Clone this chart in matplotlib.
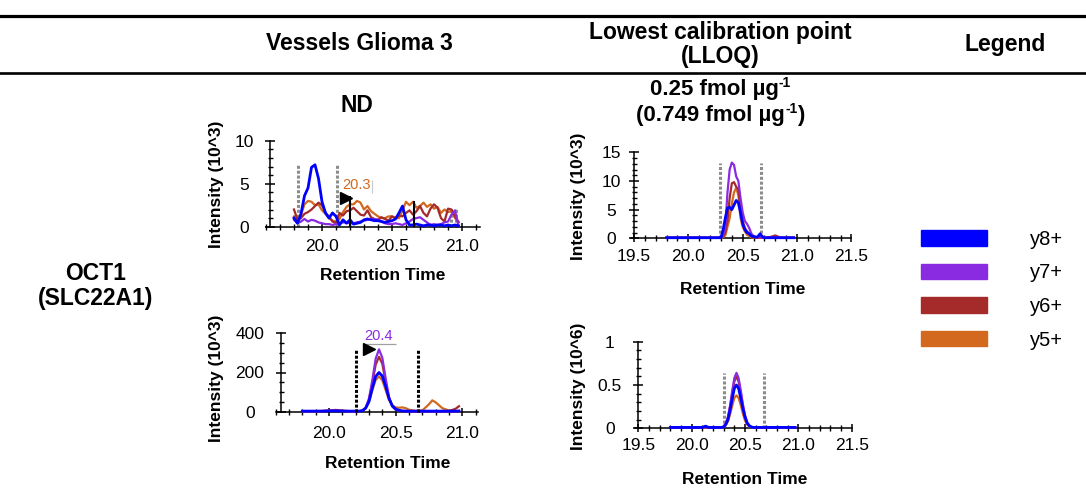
import matplotlib
matplotlib.use("Agg")
import matplotlib.pyplot as plt
from matplotlib.lines import Line2D
from matplotlib.patches import Patch
from matplotlib.ticker import MultipleLocator, FormatStrFormatter

W, H = 1086, 493

# ---- data ----
ions = ["y8+", "y7+", "y6+", "y5+"]
ion_colors = ["#0000FF", "#8A2BE2", "#A52A2A", "#D2691E"]

# vessels glioma 3, top panel (10^3)
tl_time = [19.800, 19.825, 19.850, 19.875, 19.900, 19.925, 19.950, 19.975,
           20.000, 20.025, 20.050, 20.075, 20.100, 20.125, 20.150, 20.175,
           20.200, 20.225, 20.250, 20.275, 20.300, 20.325, 20.350, 20.375,
           20.400, 20.425, 20.450, 20.475, 20.500, 20.525, 20.550, 20.575,
           20.600, 20.625, 20.650, 20.675, 20.700, 20.725, 20.750, 20.775,
           20.800, 20.825, 20.850, 20.875, 20.900, 20.925, 20.950, 20.975]
tl_y8 = [1.0, 0.4, 1.5, 3.6, 4.5, 6.9, 7.2, 5.6, 2.9, 1.6, 1.0, 1.6, 1.2, 0.2, 0.8, 0.4,
         0.8, 0.3, 0.4, 0.5, 0.8, 0.9, 0.8, 0.7, 0.7, 0.6, 0.5, 0.6, 0.7, 0.9, 1.6, 2.4,
         0.8, 0.2, 0.2, 0.3, 0.2, 0.1, 0.2, 0.2, 0.1, 0.2, 0.2, 0.1, 0.2, 0.1, 0.2, 0.1]
tl_y7 = [0.8, 0.4, 0.6, 0.9, 0.6, 0.8, 0.7, 0.5, 0.4, 0.3, 0.3, 0.2, 0.3, 0.4, 0.5, 0.5,
         0.4, 0.4, 0.5, 0.6, 0.7, 0.8, 0.9, 0.9, 0.8, 0.6, 0.4, 0.3, 0.3, 0.4, 0.3, 0.2,
         0.4, 0.6, 0.9, 1.0, 1.1, 0.8, 0.5, 0.2, 0.3, 0.2, 0.3, 0.5, 0.6, 1.4, 1.9, 0.1]
tl_y6 = [2.0, 0.8, 1.0, 1.5, 1.7, 2.0, 2.4, 2.8, 2.5, 1.6, 1.2, 0.6, 0.4, 1.6, 1.3, 1.8,
         1.9, 2.2, 1.8, 1.4, 1.3, 1.9, 1.1, 0.9, 0.8, 1.1, 0.9, 0.7, 1.2, 1.0, 1.3, 1.2,
         1.6, 1.9, 1.4, 1.8, 2.4, 1.6, 1.2, 2.1, 2.6, 2.2, 1.0, 0.6, 2.1, 2.0, 1.2, 0.5]
tl_y5 = [1.2, 0.8, 1.4, 2.6, 3.0, 2.9, 2.5, 2.6, 1.9, 1.5, 1.0, 0.7, 0.6, 0.9, 1.7, 2.3,
         2.6, 2.6, 3.0, 2.8, 2.0, 2.4, 1.8, 1.5, 1.2, 1.0, 1.0, 1.2, 1.2, 1.0, 1.0, 1.9,
         2.9, 2.5, 2.9, 2.2, 2.4, 2.8, 2.3, 2.6, 2.1, 2.3, 1.6, 2.0, 1.7, 1.8, 1.0, 0.6]
tl_bounds = [19.83, 20.11]
tl_bounds_top = 7.25
tl_bounds2 = [20.92, 20.96]
tl_bounds2_top = 2.2
tl_markers = [20.20, 20.66]
tl_markers_top = [3.6, 3.0]
tl_rt_label = "20.3"

# vessels glioma 3, bottom panel (10^3)
bl_time = [19.80, 19.85, 19.90, 19.95, 20.00, 20.05, 20.10, 20.15, 20.20, 20.225, 20.25,
           20.275, 20.30, 20.325, 20.35, 20.375, 20.40, 20.425, 20.45, 20.475, 20.50,
           20.525, 20.55, 20.575, 20.60, 20.65, 20.70, 20.75, 20.775, 20.80, 20.85,
           20.90, 20.95, 20.975]
bl_y8 = [3, 3, 3, 3, 4, 4, 3, 3, 3, 3, 5, 18, 52, 120, 180, 200, 182, 130, 68, 30, 14,
         7, 4, 3, 3, 3, 3, 3, 3, 3, 3, 3, 3, 3]
bl_y7 = [2, 2, 3, 3, 5, 6, 4, 2, 1, 2, 5, 20, 68, 160, 270, 318, 275, 170, 75, 26, 10,
         4, 3, 2, 2, 1, 1, 1, 1, 1, 1, 1, 2, 5]
bl_y6 = [2, 2, 3, 4, 6, 9, 6, 3, 2, 2, 5, 18, 60, 145, 240, 280, 245, 150, 70, 28, 12,
         6, 4, 3, 2, 2, 2, 2, 2, 2, 2, 3, 15, 28]
bl_y5 = [2, 2, 2, 3, 4, 5, 3, 2, 2, 2, 6, 20, 50, 110, 162, 180, 160, 110, 60, 32, 22,
         20, 22, 18, 10, 4, 6, 38, 58, 48, 18, 6, 2, 2]
bl_bounds = [20.20, 20.67]
bl_bounds_top = 314
bl_rt_label = "20.4"

# LLOQ, top panel (10^3)
tr_time = [19.80, 19.90, 20.00, 20.10, 20.20, 20.28, 20.30, 20.32, 20.34, 20.36, 20.38,
           20.40, 20.42, 20.44, 20.46, 20.48, 20.50, 20.52, 20.54, 20.56, 20.58, 20.60,
           20.62, 20.64, 20.66, 20.68, 20.70, 20.75, 20.80, 20.85, 20.90, 20.97]
tr_y8 = [0.1, 0.1, 0.1, 0.1, 0.1, 0.1, 0.1, 1.5, 3.5, 5.3, 5.4, 5.0, 5.8, 6.6, 6.2, 4.5,
         2.5, 1.5, 1.0, 0.8, 0.4, 0.3, 0.2, 0.3, 0.8, 0.3, 0.1, 0.1, 0.1, 0.1, 0.1, 0.1]
tr_y7 = [0.1, 0.1, 0.1, 0.1, 0.1, 0.1, 0.2, 0.6, 2.0, 8.0, 12.0, 13.2, 12.8, 10.8, 10.0, 7.0,
         4.5, 3.0, 2.5, 1.8, 0.8, 0.4, 0.2, 0.2, 0.2, 0.1, 0.1, 0.1, 0.2, 0.1, 0.1, 0.1]
tr_y6 = [0.1, 0.1, 0.1, 0.1, 0.1, 0.1, 0.1, 0.3, 1.0, 3.0, 7.0, 9.6, 9.8, 9.0, 8.5, 5.0,
         3.0, 1.8, 1.2, 0.8, 0.4, 0.2, 0.1, 0.1, 0.1, 0.1, 0.1, 0.2, 0.5, 0.1, 0.1, 0.1]
tr_y5 = [0.1, 0.1, 0.1, 0.1, 0.1, 0.1, 0.1, 0.2, 0.5, 2.0, 3.5, 6.0, 8.0, 8.8, 7.5, 3.5,
         2.0, 1.2, 0.6, 0.4, 0.2, 0.1, 0.1, 0.1, 0.1, 0.1, 0.1, 0.1, 0.2, 0.1, 0.1, 0.1]
tr_bounds = [20.29, 20.67]
tr_bounds_top = 13.2

# LLOQ, bottom panel (10^6)
br_time = [19.80, 19.90, 20.00, 20.10, 20.13, 20.16, 20.20, 20.28, 20.30, 20.32, 20.34,
           20.36, 20.38, 20.40, 20.42, 20.44, 20.46, 20.48, 20.50, 20.52, 20.54, 20.56,
           20.58, 20.60, 20.65, 20.70, 20.80, 20.90, 20.97]
br_y8 = [0.01, 0.01, 0.01, 0.01, 0.025, 0.01, 0.01, 0.01, 0.015, 0.045, 0.10, 0.21, 0.34,
         0.46, 0.50, 0.46, 0.35, 0.23, 0.13, 0.06, 0.03, 0.015, 0.01, 0.01, 0.01, 0.01,
         0.01, 0.01, 0.01]
br_y7 = [0.01, 0.01, 0.01, 0.01, 0.015, 0.01, 0.01, 0.01, 0.02, 0.055, 0.13, 0.26, 0.43,
         0.58, 0.64, 0.58, 0.44, 0.28, 0.15, 0.07, 0.03, 0.015, 0.01, 0.01, 0.01, 0.01,
         0.01, 0.01, 0.01]
br_y6 = [0.01, 0.01, 0.01, 0.01, 0.015, 0.01, 0.01, 0.01, 0.02, 0.05, 0.12, 0.25, 0.40,
         0.54, 0.60, 0.54, 0.41, 0.26, 0.14, 0.065, 0.03, 0.015, 0.01, 0.01, 0.01, 0.01,
         0.01, 0.01, 0.01]
br_y5 = [0.01, 0.01, 0.01, 0.01, 0.01, 0.01, 0.01, 0.01, 0.01, 0.035, 0.08, 0.16, 0.26,
         0.35, 0.38, 0.35, 0.27, 0.17, 0.09, 0.045, 0.02, 0.01, 0.005, 0.005, 0.005,
         0.005, 0.005, 0.005, 0.005]
br_bounds = [20.30, 20.68]
br_bounds_top = 0.64

plt.rcParams["font.family"] = ["Liberation Sans", "DejaVu Sans"]

fig = plt.figure(figsize=(W / 100, H / 100), dpi=100)


def fx(px):
    return px / W


def fy(py):
    return 1 - py / H


def make_axes(xlim, ylim, xref, xref_px, xscale, y0_px, yscale):
    left = xref_px + (xlim[0] - xref) * xscale
    right = xref_px + (xlim[1] - xref) * xscale
    bottom = y0_px - ylim[0] * yscale
    top = y0_px - ylim[1] * yscale
    ax = fig.add_axes([fx(left), fy(bottom), (right - left) / W, (bottom - top) / H])
    ax.set_xlim(xlim)
    ax.set_ylim(ylim)
    ax.patch.set_alpha(0)
    return ax


def style(ax, spine_x, x_end, y_top, ymaj, ymin, yfmt, ylabel, ylab_px, xlab_px,
          ypad, xpad):
    for s in ["top", "right"]:
        ax.spines[s].set_visible(False)
    ax.spines["left"].set_position(("data", spine_x))
    ax.spines["bottom"].set_position(("data", 0))
    ax.spines["left"].set_bounds(0, y_top)
    ax.spines["bottom"].set_bounds(ax.get_xlim()[0], x_end)
    ax.spines["left"].set_linewidth(1.1)
    ax.spines["bottom"].set_linewidth(1.1)
    ax.xaxis.set_major_locator(MultipleLocator(0.5))
    ax.xaxis.set_minor_locator(MultipleLocator(0.1))
    ax.yaxis.set_major_locator(MultipleLocator(ymaj))
    ax.yaxis.set_minor_locator(MultipleLocator(ymin))
    ax.xaxis.set_major_formatter(FormatStrFormatter("%.1f"))
    ax.yaxis.set_major_formatter(FormatStrFormatter(yfmt))
    ax.tick_params(axis="x", which="major", direction="inout", length=5.5, width=1.1,
                   labelsize=12.5, pad=xpad)
    ax.tick_params(axis="x", which="minor", direction="inout", length=4, width=1.0)
    ax.tick_params(axis="y", which="major", direction="inout", length=7, width=1.1,
                   labelsize=12.5, pad=ypad)
    ax.tick_params(axis="y", which="minor", direction="inout", length=3.6, width=1.0)
    for lab in ax.get_yticklabels():
        lab.set_horizontalalignment("center")
    ax.set_ylabel(ylabel, fontsize=12.5, fontweight="bold")
    ax.set_xlabel("Retention Time", fontsize=12.5, fontweight="bold")
    ax.yaxis.set_label_coords(fx(ylab_px[0]), fy(ylab_px[1]), transform=fig.transFigure)
    ax.xaxis.set_label_coords(fx(xlab_px[0]), fy(xlab_px[1]), transform=fig.transFigure)
    ax.yaxis.label.set_verticalalignment("center")
    ax.xaxis.label.set_verticalalignment("center")


def draw_traces(ax, t, series):
    # orange first, blue on top
    for vals, c in reversed(list(zip(series, ion_colors))):
        ax.plot(t, vals, color=c, lw=2.0 if c == "#0000FF" else 1.6,
                solid_joinstyle="round", zorder=3)


grey_dash = dict(color="#8c8c8c", lw=2.2, linestyles=(0, (1, 0.6)), zorder=2)

# ---- top left ----
ax1 = make_axes((19.6, 21.13), (-0.3, 10.3), 20.0, 322, 140, 226.7, 8.6)
style(ax1, 19.63, 21.13, 10, 5, 1, "%g", "Intensity (10^3)", (216, 184), (383, 276),
      15, 6)
ax1.vlines(tl_bounds, 0, tl_bounds_top, **grey_dash)
ax1.vlines(tl_bounds2, 0, tl_bounds2_top, **grey_dash)
draw_traces(ax1, tl_time, [tl_y8, tl_y7, tl_y6, tl_y5])
ax1.vlines(tl_markers, 0, tl_markers_top, color="black", lw=1.5, zorder=4)
ax1.plot(tl_markers[0] - 0.03, tl_markers_top[0] - 0.3, marker=">", ms=8,
         color="black", zorder=5)
ax1.text(tl_markers[0] + 0.045, 4.85, tl_rt_label, color=ion_colors[3], fontsize=10.5,
         ha="center", va="center")
ax1.vlines(tl_markers[0] + 0.157, 3.9, 5.4, color="#c8c8c8", lw=0.8)

# ---- bottom left ----
ax2 = make_axes((19.6, 21.12), (-12, 412), 20.0, 329, 133.3, 411.7, 0.196)
style(ax2, 19.64, 21.12, 400, 200, 50, "%g", "Intensity (10^3)", (216, 378), (388, 463),
      19, 7.5)
ax2.vlines(bl_bounds, 0, bl_bounds_top, color="black", lw=2.2,
           linestyles=(0, (1, 0.6)), zorder=4)
draw_traces(ax2, bl_time, [bl_y8, bl_y7, bl_y6, bl_y5])
ax2.hlines(345, 20.27, 20.5, color="#a0a0a0", lw=0.9)
ax2.plot(20.30, 322, marker=">", ms=8, color="black", zorder=5)
ax2.text(20.375, 388, bl_rt_label, color=ion_colors[1], fontsize=10.5,
         ha="center", va="center")

# ---- top right ----
ax3 = make_axes((19.47, 21.52), (-0.45, 15.45), 19.5, 634, 108.7, 238.3, 5.733)
style(ax3, 19.5, 21.5, 15, 5, 1, "%g", "Intensity (10^3)", (578, 196), (743, 289),
      13, 5)
ax3.vlines(tr_bounds, 0, tr_bounds_top, **grey_dash)
draw_traces(ax3, tr_time, [tr_y8, tr_y7, tr_y6, tr_y5])

# ---- bottom right ----
ax4 = make_axes((19.47, 21.52), (-0.03, 1.03), 19.5, 638.3, 106.7, 428.3, 86.6)
style(ax4, 19.5, 21.5, 1, 0.5, 0.1, "%g", "Intensity (10^6)", (578, 386), (745, 479),
      17, 4.5)
ax4.vlines(br_bounds, 0, br_bounds_top, **grey_dash)
draw_traces(ax4, br_time, [br_y8, br_y7, br_y6, br_y5])

# ---- table rules and headings ----
fig.add_artist(Line2D([0, 1], [fy(16), fy(16)], transform=fig.transFigure,
                      color="black", lw=2.3))
fig.add_artist(Line2D([0, 1], [fy(73), fy(73)], transform=fig.transFigure,
                      color="black", lw=1.9))

head = dict(fontsize=16.5, fontweight="bold", ha="center", va="center")
fig.text(fx(359.5), fy(44), "Vessels Glioma 3", **head)
fig.text(fx(720), fy(32), "Lowest calibration point", **head)
fig.text(fx(720), fy(57), "(LLOQ)", **head)
fig.text(fx(1005), fy(45), "Legend", **head)
fig.text(fx(357), fy(105), "ND", **head)
fig.text(fx(96), fy(273), "OCT1", **head)
fig.text(fx(96), fy(298), "(SLC22A1)", **head)

# concentration lines: main text plus a small superscript "-1"
renderer = fig.canvas.get_renderer()
for base_px, (before, after) in [(95, ("0.25 fmol µg", "")),
                                 (121, ("(0.749 fmol µg", ")"))]:
    sup_w = 12
    a_w = 0
    if after:
        probe = fig.text(0, 0, after, fontsize=16, fontweight="bold")
        a_w = probe.get_window_extent(renderer).width
        probe.remove()
    probe = fig.text(0, 0, before, fontsize=16, fontweight="bold")
    b_w = probe.get_window_extent(renderer).width
    probe.remove()
    x0 = 720 - (b_w + sup_w + a_w) / 2
    fig.text(fx(x0), fy(base_px), before, fontsize=16, fontweight="bold",
             ha="left", va="baseline")
    fig.text(fx(x0 + b_w + 0.5), fy(base_px - 8), "-1", fontsize=10, fontweight="bold",
             ha="left", va="baseline")
    if after:
        fig.text(fx(x0 + b_w + sup_w), fy(base_px), after, fontsize=16,
                 fontweight="bold", ha="left", va="baseline")

handles = [Patch(facecolor=c, edgecolor=c) for c in ion_colors]
fig.legend(handles, ions, loc="upper left", bbox_to_anchor=(fx(921), fy(230)),
           frameon=False, fontsize=14.5, handlelength=3.3, handleheight=0.8,
           handletextpad=2.1, labelspacing=0.72, borderpad=0, borderaxespad=0)

fig.savefig("out.png", dpi=100)
